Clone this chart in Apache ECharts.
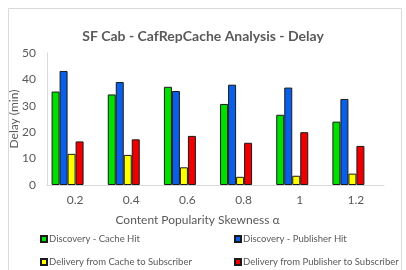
<!DOCTYPE html>
<html><head><meta charset="utf-8">
<script src="https://cdn.jsdelivr.net/npm/echarts@6/dist/echarts.min.js"></script>
<style>html,body{margin:0;padding:0;background:#fff}#c{width:406px;height:270px}</style>
</head><body><div id="c"></div>
<script>
var categories = ['0.2','0.4','0.6','0.8','1','1.2'];
var seriesNames = ['Discovery - Cache Hit','Discovery - Publisher Hit','Delivery from Cache to Subscriber','Delivery from Publisher to Subscriber'];
var cacheHit = [35.4, 34.3, 37.2, 30.7, 26.6, 24.0];
var publisherHit = [43.2, 39.0, 35.6, 38.0, 36.9, 32.6];
var deliveryCache = [11.8, 11.4, 6.7, 3.1, 3.5, 4.3];
var deliveryPublisher = [16.5, 17.3, 18.6, 16.0, 20.0, 14.8];
var yTicks = [0, 10, 20, 30, 40, 50];
var colors = ['#00e000', '#0a5fe8', '#ffff00', '#ee0000'];
var values = [cacheHit, publisherHit, deliveryCache, deliveryPublisher];

var chart = echarts.init(document.getElementById('c'));
var font = 'Lato, "Open Sans", "Noto Sans", sans-serif';
var legendPos = [{left: 35, top: 229}, {left: 229, top: 229}, {left: 35, top: 252}, {left: 229, top: 252}];
var series = seriesNames.map(function (n, i) {
  return {name: n, type: 'bar', data: values[i], barWidth: 8, barGap: '0%',
    itemStyle: {color: colors[i], borderColor: '#1a1a1a', borderWidth: 1}};
});
// empty spacer: the reference draws each cluster slightly left of its category label
series.push({name: 'spacer', type: 'bar', data: categories.map(function () { return null; }),
  barWidth: 15, barGap: '0%', silent: true, itemStyle: {color: 'transparent'}});
chart.setOption({
  animation: false,
  textStyle: {fontFamily: font},
  graphic: [{type: 'rect', shape: {x: 8.5, y: 8.5, width: 393, height: 270}, style: {fill: 'none', stroke: '#d9d9d9', lineWidth: 1}}],
  title: {text: 'SF Cab - CafRepCache Analysis - Delay', left: 'center', top: 24,
    textStyle: {fontSize: 14, fontWeight: 'bold', color: '#595959', fontFamily: font}},
  legend: seriesNames.map(function (n, i) {
    return {data: [n], left: legendPos[i].left, top: legendPos[i].top, itemWidth: 6, itemHeight: 6, itemGap: 2,
      icon: 'rect', textStyle: {fontSize: 9.5, color: '#595959', padding: [0, 0, 0, -3]}};
  }),
  grid: {left: 47, right: 22, top: 53, bottom: 85, containLabel: false, outerBoundsMode: 'none'},
  xAxis: {type: 'category', data: categories,
    name: 'Content Popularity Skewness α', nameLocation: 'middle', nameGap: 29, nameMoveOverlap: false,
    nameTextStyle: {fontSize: 12, color: '#595959', padding: [0, 36, 0, 0]},
    axisLine: {lineStyle: {color: '#d9d9d9', width: 1}}, axisTick: {show: false},
    axisLabel: {fontSize: 12, color: '#595959', margin: 9}},
  yAxis: {type: 'value', min: 0, max: 50, interval: 10,
    name: 'Delay (min)', nameLocation: 'middle', nameGap: 27, nameMoveOverlap: false,
    nameTextStyle: {fontSize: 12, color: '#595959'},
    axisLine: {show: true, lineStyle: {color: '#d9d9d9', width: 1}}, axisTick: {show: false},
    splitLine: {show: false},
    axisLabel: {fontSize: 12, color: '#595959', margin: 11,
      formatter: function (v) { return yTicks.indexOf(v) >= 0 ? String(v) : ''; }}},
  series: series
});
</script></body></html>
